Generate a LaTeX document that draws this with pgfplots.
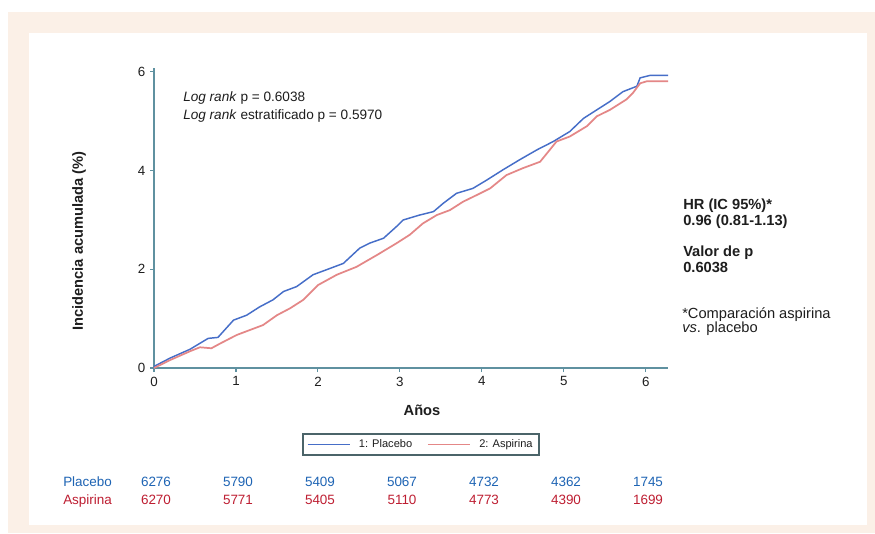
\documentclass[border=0pt]{standalone}
\usepackage{fontspec}
\setmainfont{Liberation Sans}
\usepackage{pgfplots}
\pgfplotsset{compat=1.18}
\definecolor{beige}{RGB}{251,240,231}
\definecolor{axiscol}{RGB}{95,145,160}
\definecolor{legcol}{RGB}{75,100,105}
\definecolor{bluel}{RGB}{70,110,200}
\definecolor{redl}{RGB}{228,135,135}
\definecolor{tblue}{RGB}{30,100,180}
\definecolor{tred}{RGB}{190,30,50}
\definecolor{txt}{RGB}{30,30,30}
\begin{document}
\begin{tikzpicture}[x=0.75pt,y=0.75pt]
\fill[white] (0,0) rectangle (875,533);
\fill[beige] (8,0) rectangle (875,521);
\fill[white] (29,8) rectangle (867,500);
\begin{axis}[
  at={(115.5pt,123.75pt)}, anchor=south west,
  scale only axis, width=385.5pt, height=225pt,
  xmin=0, xmax=6.27, ymin=0, ymax=6.08,
  axis lines=left,
  axis line style={-, draw=axiscol, line width=1.2pt},
  xtick={0,1,2,3,4,5,6}, ytick={0,2,4,6},
  tick style={draw=axiscol, line width=0.8pt},
  major tick length=3pt, tick align=outside,
  ticklabel style={font=\fontsize{10}{12}\selectfont, text=txt},
  /pgf/number format/assume math mode=true,
  clip=false,
  legend columns=2,
  legend style={at={(0.5195,-0.255)}, anchor=center, draw=legcol, line width=1.2pt,
    font=\fontsize{8.3}{9}\selectfont, text=txt, inner xsep=3pt, inner ysep=2pt,
    /tikz/every odd column/.append style={column sep=4pt},
    /tikz/every even column/.append style={column sep=9pt}},
  legend image code/.code={\draw[#1] (0pt,0pt) -- (32pt,0pt);},
]
\addplot[bluel, line width=1.1pt] coordinates {
(0,0) (0.01,0.04) (0.195,0.20) (0.44,0.38) (0.66,0.60) (0.78,0.62) (0.97,0.97)
(1.13,1.07) (1.29,1.24) (1.45,1.38) (1.58,1.55) (1.74,1.65) (1.94,1.89)
(2.15,2.02) (2.31,2.12) (2.51,2.43) (2.63,2.53) (2.80,2.63) (2.96,2.87)
(3.04,3.00) (3.24,3.10) (3.41,3.17) (3.53,3.34) (3.69,3.54) (3.89,3.64)
(4.06,3.81) (4.26,4.02) (4.46,4.22) (4.67,4.42) (4.87,4.59) (5.07,4.79)
(5.24,5.06) (5.40,5.23) (5.56,5.40) (5.72,5.60) (5.89,5.71) (5.93,5.88)
(6.05,5.93) (6.27,5.93)};
\addlegendentry{1: Placebo}
\addplot[redl, line width=1.3pt] coordinates {
(0,0) (0.195,0.16) (0.44,0.34) (0.56,0.42) (0.70,0.40) (0.80,0.49) (1.01,0.67)
(1.17,0.77) (1.33,0.87) (1.50,1.07) (1.66,1.21) (1.82,1.38) (2.00,1.68)
(2.23,1.89) (2.47,2.05) (2.72,2.29) (2.96,2.53) (3.12,2.70) (3.28,2.93)
(3.45,3.10) (3.61,3.20) (3.77,3.37) (3.98,3.54) (4.10,3.64) (4.30,3.91)
(4.50,4.05) (4.71,4.18) (4.91,4.59) (5.07,4.69) (5.28,4.90) (5.40,5.10)
(5.56,5.23) (5.76,5.44) (5.84,5.57) (5.93,5.77) (6.01,5.81) (6.27,5.81)};
\addlegendentry{2: Aspirina}
\end{axis}
% axis labels
\node[rotate=90, font=\bfseries\fontsize{11}{12}\selectfont, text=txt] at (79,292) {Incidencia acumulada (\%)};
\node[font=\bfseries\fontsize{11}{12}\selectfont, text=txt] at (422,123) {Años};
% log rank
\node[anchor=base west, inner sep=0pt, font=\fontsize{10.2}{12}\selectfont, text=txt] at (183,431.3) {\textit{Log rank} p = 0.6038};
\node[anchor=base west, inner sep=0pt, font=\fontsize{10.2}{12}\selectfont, text=txt] at (183,413) {\textit{Log rank} estratificado p = 0.5970};
% right block
\begin{scope}[every node/.style={anchor=base west, inner sep=0pt, text=txt}]
\node[font=\bfseries\fontsize{11}{13}\selectfont] at (683,323) {HR (IC 95\%)*};
\node[font=\bfseries\fontsize{11}{13}\selectfont] at (683,307) {0.96 (0.81-1.13)};
\node[font=\bfseries\fontsize{11}{13}\selectfont] at (683,276.3) {Valor de p};
\node[font=\bfseries\fontsize{11}{13}\selectfont] at (683,260.3) {0.6038};
\node[font=\fontsize{11}{13}\selectfont] at (682,215) {*Comparación aspirina};
\node[font=\fontsize{11}{13}\selectfont] at (682,201) {\textit{vs}. placebo};
\end{scope}
% number at risk
\begin{scope}[every node/.style={anchor=base, inner sep=0pt, font=\fontsize{10.1}{12}\selectfont}]
\node[anchor=base west, text=tblue] at (63,46.5) {Placebo};
\node[anchor=base west, text=tred] at (63,28.5) {Aspirina};
\foreach \xx/\a/\b in {156/6276/6270, 238/5790/5771, 320/5409/5405, 402/5067/5110, 484/4732/4773, 566/4362/4390, 648/1745/1699}{
  \node[text=tblue] at (\xx,46.5) {\a};
  \node[text=tred] at (\xx,28.5) {\b};
}
\end{scope}
\end{tikzpicture}
\end{document}
